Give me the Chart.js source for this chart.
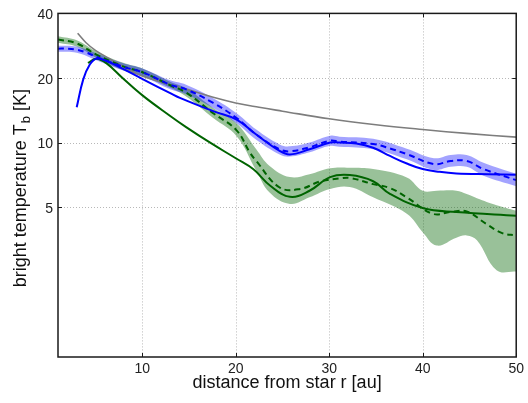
<!DOCTYPE html>
<html>
<head>
<meta charset="utf-8">
<script src="https://cdn.jsdelivr.net/npm/chart.js@4.4.0/dist/chart.umd.min.js"></script>
<style>
  html, body { margin: 0; padding: 0; background: #fff; }
  #wrap { width: 528px; height: 403px; }
</style>
</head>
<body>
<div id="wrap"><canvas id="chartCanvas" width="528" height="403"></canvas></div>
<script>
// axis ticks
const xTicks = [10, 20, 30, 40, 50];
const yTicks = [5, 10, 20, 40];

// power-law reference profile
const grayR = [3.1, 4, 5, 6.5, 8, 10, 12.5, 15, 17.5, 20, 22.5, 25, 30, 35, 40, 45, 50];
const grayT = [32.3, 29.2, 26.9, 24.6, 22.6, 20.4, 18.9, 17.6, 16.3, 15.3, 14.6, 14.0, 12.9, 12.1, 11.5, 11.0, 10.6];

// blue model (solid) and blue fit (dashed) with its band
const blueR = [3.0, 3.7, 4.4, 5.1, 6.2, 7.9, 10.1, 13.0, 14.1, 17.6, 20.1, 22.2, 24.7, 25.8, 27.9, 30.1, 31.1, 32.9, 34.7, 36.5, 38.3, 40.0, 41.8, 43.6, 47.1, 50];
const blueT = [14.6, 19.7, 23.1, 24.6, 24.0, 22.1, 19.7, 17.0, 16.1, 14.0, 12.8, 10.9, 9.14, 8.8, 9.3, 10.0, 10.0, 9.9, 9.45, 8.66, 7.98, 7.52, 7.3, 7.18, 7.12, 7.08];

const blueFitR = [1, 2, 3, 4, 5.1, 7.9, 10.1, 13, 14.7, 17.6, 20.1, 22.2, 24.7, 25.8, 27.9, 30.1, 31.1, 34.7, 36.5, 38.3, 41.2, 43, 44.7, 46.5, 50];
const blueFitT = [27.4, 27.4, 27.1, 26.3, 25.1, 22.6, 21.2, 18.6, 17.7, 15.3, 13.0, 10.9, 9.3, 9.1, 9.5, 10.2, 10.1, 9.84, 9.38, 8.83, 7.94, 8.2, 8.2, 7.52, 6.68];

const blueBandR = [1, 3, 5.1, 7.9, 10.1, 13, 14.7, 17.6, 20.1, 22.2, 24.7, 25.8, 27.9, 30.1, 31.1, 34.7, 38.3, 41.2, 43, 44.7, 46.5, 50];
const blueBandHi = [28.3, 28.0, 26.0, 23.5, 22.1, 19.5, 18.6, 16.1, 13.7, 11.5, 9.8, 9.6, 10.0, 10.75, 10.65, 10.4, 9.35, 8.45, 8.75, 8.75, 8.05, 7.15];
const blueBandLo = [26.5, 26.2, 24.2, 21.7, 20.3, 17.7, 16.8, 14.5, 12.3, 10.3, 8.8, 8.6, 9.0, 9.65, 9.55, 9.3, 8.35, 7.45, 7.7, 7.7, 7.0, 6.25];

// green model (solid) and green fit (dashed) with its band
const greenR = [4.2, 5.1, 6.2, 7.9, 10.1, 13, 14.7, 17.4, 20.1, 21.9, 23.7, 25.8, 27.9, 30.1, 32.2, 34.7, 36.5, 40, 43.6, 50];
const greenT = [23.5, 24.6, 23.4, 20.0, 16.5, 13.3, 11.8, 9.9, 8.4, 7.5, 6.29, 5.58, 5.96, 6.9, 7.05, 6.6, 5.76, 4.95, 4.74, 4.56];

const greenFitR = [1, 3, 5.1, 7.9, 10.1, 13, 14.7, 17.6, 20.1, 21.5, 22.2, 24.7, 26.9, 29, 31.1, 32.2, 34.7, 36.5, 38.3, 41.1, 43, 44.7, 46.8, 48.5, 50];
const greenFitT = [30.2, 29.0, 25.7, 22.7, 21.2, 18.5, 17.1, 13.7, 11.4, 9.0, 8.2, 6.17, 6.07, 6.58, 6.8, 6.84, 6.4, 6.13, 5.55, 4.65, 4.75, 4.77, 4.17, 3.78, 3.69];

const greenBandR = [1, 3, 5.1, 7.9, 10.1, 13, 14.7, 17.6, 20.1, 22.2, 23.6, 25.8, 27.9, 30.1, 32.2, 34.7, 38.3, 40, 41.5, 43.6, 44.7, 45.8, 47.9, 50];
const greenBandHi = [31.3, 30.0, 26.6, 23.6, 22.1, 19.2, 17.9, 14.5, 12.3, 9.3, 7.8, 6.9, 7.12, 7.59, 7.63, 7.52, 6.87, 5.96, 5.96, 5.96, 5.75, 5.5, 5.1, 4.81];
const greenBandLo = [29.2, 28.0, 24.8, 21.8, 20.3, 18.0, 16.4, 13.0, 10.7, 7.4, 5.86, 5.17, 5.55, 6.07, 6.2, 5.55, 4.65, 3.82, 3.31, 3.6, 3.69, 3.5, 2.54, 2.5];

const FONT = "'Liberation Sans', Arial, sans-serif";
const BLUE = 'rgb(0,0,255)';
const GREEN = 'rgb(0,100,0)';

const pts = (xs, ys) => xs.map((x, i) => ({ x: x, y: ys[i] }));

function line(data, color, width, dash, order) {
  return {
    data: data,
    borderColor: color,
    borderWidth: width,
    borderDash: dash || [],
    pointRadius: 0,
    fill: false,
    tension: 0.4,
    order: order || 0
  };
}

function bandEdge(data, order, fillColor) {
  return {
    data: data,
    borderWidth: 0,
    borderColor: 'rgba(0,0,0,0)',
    backgroundColor: fillColor || 'rgba(0,0,0,0)',
    pointRadius: 0,
    fill: fillColor ? '-1' : false,
    tension: 0.4,
    order: order
  };
}

// dotted grid, frame, inward ticks and axis titles
const framePlugin = {
  id: 'frame',
  beforeDatasetsDraw(chart) {
    const { ctx, chartArea: a, scales: { x, y } } = chart;
    ctx.save();
    ctx.strokeStyle = '#b8b8b8';
    ctx.lineWidth = 1;
    ctx.setLineDash([1, 2]);
    xTicks.forEach(v => {
      if (v >= 50) return;
      const px = Math.round(x.getPixelForValue(v)) + 0.5;
      ctx.beginPath(); ctx.moveTo(px, a.top); ctx.lineTo(px, a.bottom); ctx.stroke();
    });
    yTicks.forEach(v => {
      if (v >= 40) return;
      const py = Math.round(y.getPixelForValue(v)) + 0.5;
      ctx.beginPath(); ctx.moveTo(a.left, py); ctx.lineTo(a.right, py); ctx.stroke();
    });
    ctx.restore();
  },
  afterDatasetsDraw(chart) {
    const { ctx, chartArea: a, scales: { x, y } } = chart;
    ctx.save();
    ctx.strokeStyle = '#1a1a1a';
    ctx.lineWidth = 1.5;
    ctx.strokeRect(a.left, a.top, a.right - a.left, a.bottom - a.top);
    ctx.lineWidth = 1;
    xTicks.forEach(v => {
      const px = Math.round(x.getPixelForValue(v)) + 0.5;
      ctx.beginPath();
      ctx.moveTo(px, a.bottom); ctx.lineTo(px, a.bottom - 4);
      ctx.moveTo(px, a.top); ctx.lineTo(px, a.top + 4);
      ctx.stroke();
    });
    yTicks.forEach(v => {
      const py = Math.round(y.getPixelForValue(v)) + 0.5;
      ctx.beginPath();
      ctx.moveTo(a.left, py); ctx.lineTo(a.left + 4, py);
      ctx.moveTo(a.right, py); ctx.lineTo(a.right - 4, py);
      ctx.stroke();
    });

    ctx.fillStyle = '#111';
    // x title
    ctx.font = '18px ' + FONT;
    ctx.textAlign = 'center';
    ctx.textBaseline = 'middle';
    ctx.fillText('distance from star r [au]', (a.left + a.right) / 2, a.bottom + 26);

    // y title with subscript
    const main = 'bright temperature T';
    const sub = 'b';
    const tail = ' [K]';
    ctx.font = '18px ' + FONT;
    const w1 = ctx.measureText(main).width;
    const w3 = ctx.measureText(tail).width;
    ctx.font = '13px ' + FONT;
    const w2 = ctx.measureText(sub).width;
    const total = w1 + w2 + w3 + 1;
    ctx.translate(26, (a.top + a.bottom) / 2 + 3);
    ctx.rotate(-Math.PI / 2);
    ctx.textAlign = 'left';
    ctx.textBaseline = 'alphabetic';
    let cx = -total / 2;
    ctx.font = '18px ' + FONT;
    ctx.fillText(main, cx, 0);
    cx += w1 + 1;
    ctx.font = '13px ' + FONT;
    ctx.fillText(sub, cx, 4);
    cx += w2;
    ctx.font = '18px ' + FONT;
    ctx.fillText(tail, cx, 0);
    ctx.restore();
  }
};

const chart = new Chart(document.getElementById('chartCanvas'), {
  type: 'line',
  data: {
    datasets: [
      bandEdge(pts(blueBandR, blueBandHi), 5),
      bandEdge(pts(blueBandR, blueBandLo), 5, 'rgba(0,0,255,0.36)'),
      bandEdge(pts(greenBandR, greenBandHi), 6),
      bandEdge(pts(greenBandR, greenBandLo), 6, 'rgba(0,100,0,0.4)'),
      line(pts(grayR, grayT), 'rgb(125,125,125)', 1.6, null, 1),
      line(pts(blueFitR, blueFitT), BLUE, 2, [6, 4]),
      line(pts(blueR, blueT), BLUE, 2),
      line(pts(greenFitR, greenFitT), GREEN, 2, [6, 4]),
      line(pts(greenR, greenT), GREEN, 2)
    ]
  },
  options: {
    responsive: false,
    animation: false,
    events: [],
    layout: { padding: { top: 12, right: 11, left: 0, bottom: 0 } },
    plugins: { legend: { display: false }, tooltip: { enabled: false } },
    scales: {
      x: {
        type: 'linear',
        min: 1,
        max: 50,
        grid: { display: false, drawTicks: false },
        border: { display: false },
        afterBuildTicks: s => { s.ticks = xTicks.map(v => ({ value: v })); },
        afterFit: s => { s.height = 46; },
        ticks: { padding: 4, color: '#222', font: { family: FONT, size: 14 } }
      },
      y: {
        type: 'logarithmic',
        min: 1,
        max: 40,
        grid: { display: false, drawTicks: false },
        border: { display: false },
        afterBuildTicks: s => { s.ticks = yTicks.map(v => ({ value: v })); },
        afterFit: s => { s.width = 58; },
        ticks: {
          padding: 5,
          labelOffset: 2,
          color: '#222',
          font: { family: FONT, size: 14 },
          callback: v => String(v)
        }
      }
    }
  },
  plugins: [framePlugin]
});
</script>
</body>
</html>
